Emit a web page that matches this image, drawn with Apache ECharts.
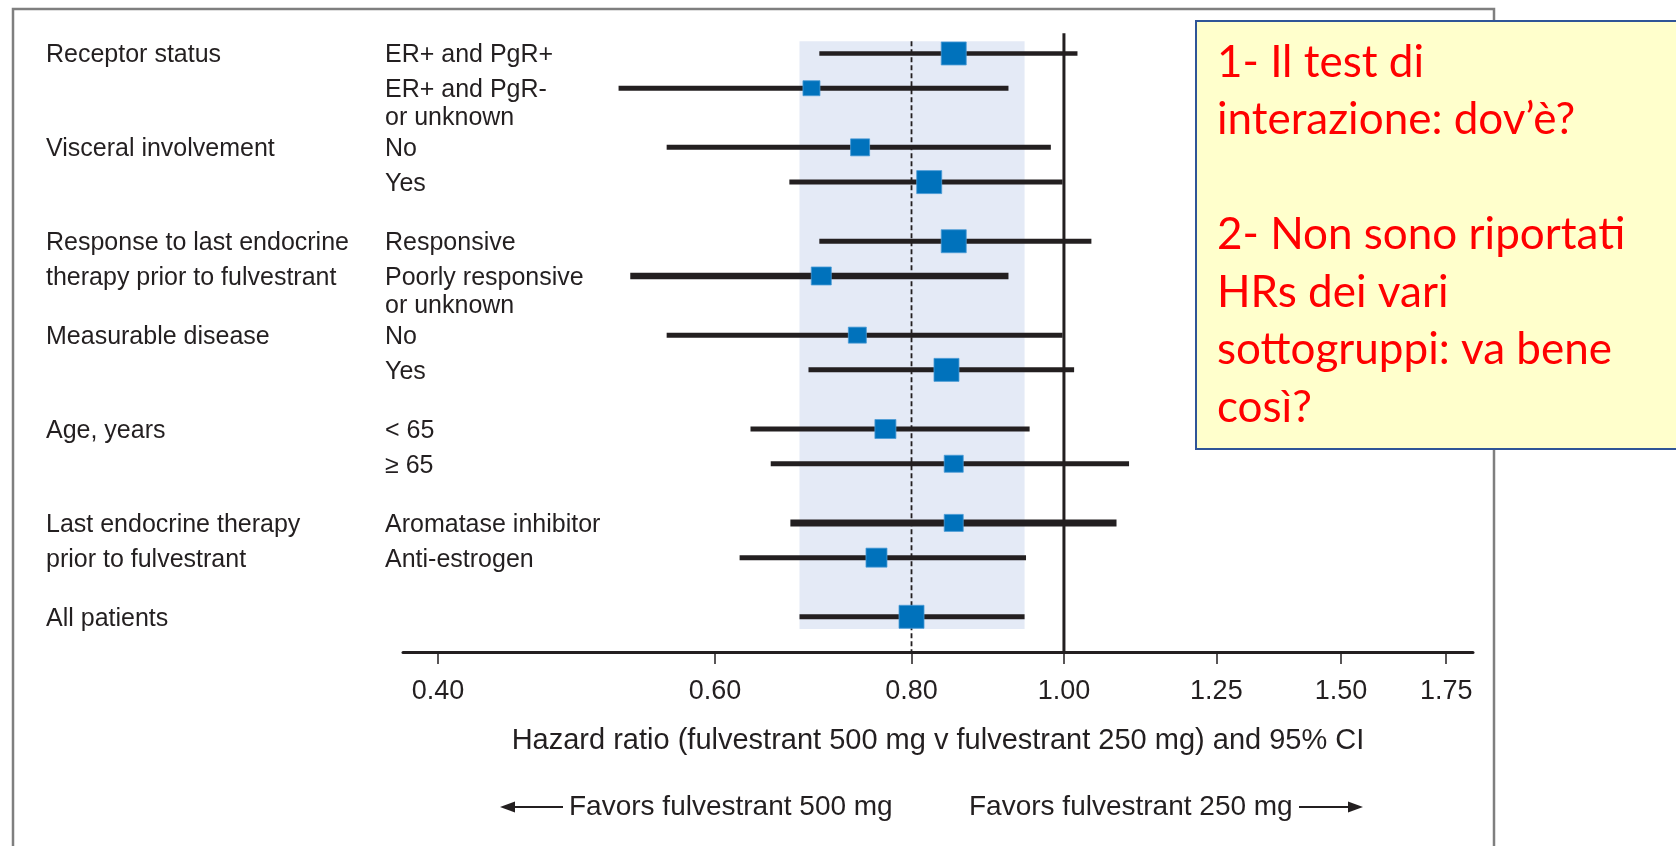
<!DOCTYPE html>
<html><head><meta charset="utf-8">
<script src="https://cdn.jsdelivr.net/npm/echarts@6/dist/echarts.min.js"></script>
<style>html,body{margin:0;padding:0;background:#fff}#c{width:1676px;height:846px}</style>
</head><body><div id="c"></div>
<script>
// ---------- data ----------
const groupLabels = ['Receptor status', 'Visceral involvement', 'Response to last endocrine\ntherapy prior to fulvestrant', 'Measurable disease', 'Age, years', 'Last endocrine therapy\nprior to fulvestrant', 'All patients'];
const subgroupLabels = ['ER+ and PgR+', 'ER+ and PgR-\nor unknown', 'No', 'Yes', 'Responsive', 'Poorly responsive\nor unknown', 'No', 'Yes', '< 65', '≥ 65', 'Aromatase inhibitor', 'Anti-estrogen', ''];
const rowGroup   = [0, 0, 1, 1, 2, 2, 3, 3, 4, 4, 5, 5, 6];
const rowInGroup = [0, 1, 0, 1, 0, 1, 0, 1, 0, 1, 0, 1, 0];
const hazardRatio = [0.851, 0.691, 0.742, 0.821, 0.851, 0.701, 0.739, 0.842, 0.770, 0.851, 0.851, 0.760, 0.80];
const ciLower     = [0.699, 0.521, 0.559, 0.669, 0.699, 0.530, 0.559, 0.688, 0.632, 0.651, 0.670, 0.622, 0.679];
const ciUpper     = [1.020, 0.922, 0.981, 0.998, 1.041, 0.922, 0.998, 1.015, 0.951, 1.100, 1.080, 0.946, 0.944];
const tickValues = [0.40, 0.60, 0.80, 1.00, 1.25, 1.50, 1.75];
const noEffectHR = 1.0;
const overallIndex = 12;
const axisTitle = 'Hazard ratio (fulvestrant 500 mg v fulvestrant 250 mg) and 95% CI';
const favorsLeft = 'Favors fulvestrant 500 mg';
const favorsRight = 'Favors fulvestrant 250 mg';
const noteLines = ['1- Il test di', 'interazione: dov\u2019è?', '', '2- Non sono riportati', 'HRs dei vari', 'sottogruppi: va bene', 'così?'];

// ---------- styles / layout ----------
const squareHeight = [23, 15, 17, 23, 23, 18, 16, 23, 19, 17, 17, 19, 23];
const ciLineWidth  = [4.5, 5, 5, 5, 5, 6.5, 5, 5, 5, 5, 7, 5, 5];
const SUB_STEP = 0.37;
const X_MIN = Math.log(0.38), X_MAX = Math.log(1.82);
const Y_MIN = -0.25, Y_MAX = 6.375;
const BAND_TOP = -0.13, BAND_BOTTOM = 6.13, SOLID_TOP = -0.215;
const INK = '#231F20';
const FONT = '"Liberation Sans", Arial, sans-serif';
const TEXT_NUDGE = 2;

const rowY = rowGroup.map((g, i) => g + rowInGroup[i] * SUB_STEP);
const ciData = hazardRatio.map((h, i) => [Math.log(ciLower[i]), Math.log(ciUpper[i]), Math.log(h), rowY[i], i]);
const labelData = rowY.map((y, i) => [X_MIN, y, i]);

const chart = echarts.init(document.getElementById('c'), null, {renderer: 'canvas'});

const option = {
  animation: false,
  backgroundColor: '#ffffff',
  grid: {left: 403, right: 203, top: 30, bottom: 194, containLabel: false},
  xAxis: {
    type: 'value', min: X_MIN, max: X_MAX, position: 'bottom',
    axisLine: {show: true, onZero: false, lineStyle: {color: INK, width: 3}},
    axisTick: {show: true, length: 12, lineStyle: {color: INK, width: 1.5}, customValues: tickValues.map(Math.log)},
    axisLabel: {show: true, customValues: tickValues.map(Math.log), formatter: v => Math.exp(v).toFixed(2),
      fontSize: 27, fontFamily: FONT, color: INK, margin: 26},
    splitLine: {show: false},
    name: axisTitle, nameLocation: 'middle', nameGap: 74,
    nameTextStyle: {fontSize: 29, fontFamily: FONT, color: INK}
  },
  yAxis: {
    type: 'value', min: Y_MIN, max: Y_MAX, inverse: true,
    axisLine: {show: false}, axisTick: {show: false}, axisLabel: {show: false}, splitLine: {show: false}
  },
  series: [
    { // shaded band = overall CI
      type: 'custom', z: 1, silent: true, clip: false,
      data: [[Math.log(ciLower[overallIndex]), Math.log(ciUpper[overallIndex]), BAND_TOP, BAND_BOTTOM]],
      encode: {x: [0, 1], y: [2, 3]},
      renderItem: (params, api) => {
        const p1 = api.coord([api.value(0), api.value(2)]);
        const p2 = api.coord([api.value(1), api.value(3)]);
        return {type: 'rect', shape: {x: p1[0], y: p1[1], width: p2[0] - p1[0], height: p2[1] - p1[1]}, style: {fill: '#E4EAF6'}};
      }
    },
    { // overall HR dashed line
      type: 'line', z: 2, silent: true, symbol: 'none',
      data: [[Math.log(hazardRatio[overallIndex]), BAND_TOP], [Math.log(hazardRatio[overallIndex]), Y_MAX]],
      lineStyle: {color: INK, width: 1.8, type: [5, 3]}
    },
    { // no effect line
      type: 'line', z: 2, silent: true, symbol: 'none',
      data: [[Math.log(noEffectHR), SOLID_TOP], [Math.log(noEffectHR), Y_MAX]],
      lineStyle: {color: INK, width: 3}
    },
    { // CI lines
      type: 'custom', z: 3, silent: true, clip: false,
      data: ciData, encode: {x: [0, 1, 2], y: 3},
      renderItem: (params, api) => {
        const i = api.value(4);
        const lo = api.coord([api.value(0), api.value(3)]);
        const hi = api.coord([api.value(1), api.value(3)]);
        return {type: 'line', shape: {x1: lo[0], y1: lo[1], x2: hi[0], y2: hi[1]},
          style: {stroke: INK, lineWidth: ciLineWidth[i], lineCap: 'butt'}};
      }
    },
    { // squares
      type: 'custom', z: 4, silent: true, clip: false,
      data: ciData, encode: {x: [0, 1, 2], y: 3},
      renderItem: (params, api) => {
        const i = api.value(4);
        const c = api.coord([api.value(2), api.value(3)]);
        const h = squareHeight[i], w = h + 2;
        return {type: 'rect', shape: {x: c[0] - w / 2, y: c[1] - h / 2, width: w, height: h},
          style: {fill: '#0072BC', stroke: '#4A9AD6', lineWidth: 0.8}};
      }
    },
    { // row labels
      type: 'custom', z: 5, silent: true, clip: false,
      data: labelData, encode: {x: 0, y: 1},
      renderItem: (params, api) => {
        const i = api.value(2);
        const children = [];
        const y0 = api.coord([X_MIN, api.value(1)])[1] + TEXT_NUDGE;
        if (rowInGroup[i] === 0) {
          const g = rowGroup[i];
          groupLabels[g].split('\n').forEach((t, k) => {
            const yy = api.coord([X_MIN, g + k * SUB_STEP])[1] + TEXT_NUDGE;
            children.push({type: 'text', style: {text: t, x: 46, y: yy, fill: INK, fontSize: 25, fontFamily: FONT, align: 'left', verticalAlign: 'middle'}});
          });
        }
        subgroupLabels[i].split('\n').forEach((t, k) => {
          if (!t) return;
          children.push({type: 'text', style: {text: t, x: 385, y: y0 + k * 28, fill: INK, fontSize: 25, fontFamily: FONT, align: 'left', verticalAlign: 'middle'}});
        });
        return {type: 'group', children};
      }
    }
  ],
  graphic: [
    {type: 'rect', z: 0, silent: true, shape: {x: 13, y: 9, width: 1481, height: 900}, style: {fill: 'none', stroke: '#7F7F7F', lineWidth: 2.5}},
    {type: 'text', z: 10, silent: true, style: {text: favorsLeft, x: 569, y: 807, fill: INK, fontSize: 28, fontFamily: FONT, align: 'left', verticalAlign: 'middle'}},
    {type: 'line', z: 10, silent: true, shape: {x1: 512, y1: 807, x2: 563, y2: 807}, style: {stroke: INK, lineWidth: 2}},
    {type: 'polygon', z: 10, silent: true, shape: {points: [[500, 807], [515, 801.5], [515, 812.5]]}, style: {fill: INK}},
    {type: 'text', z: 10, silent: true, style: {text: favorsRight, x: 969, y: 807, fill: INK, fontSize: 28, fontFamily: FONT, align: 'left', verticalAlign: 'middle'}},
    {type: 'line', z: 10, silent: true, shape: {x1: 1299, y1: 807, x2: 1351, y2: 807}, style: {stroke: INK, lineWidth: 2}},
    {type: 'polygon', z: 10, silent: true, shape: {points: [[1363, 807], [1348, 801.5], [1348, 812.5]]}, style: {fill: INK}},
    {type: 'rect', z: 20, silent: true, shape: {x: 1196, y: 21, width: 520, height: 428}, style: {fill: '#FFFFCC', stroke: '#2F5597', lineWidth: 2}},
    {type: 'text', z: 21, silent: true, style: {text: noteLines.join('\n'), x: 1217, y: 34, fill: '#FF0000', fontSize: 44, fontFamily: 'Lato, "Open Sans", sans-serif', lineHeight: 57.5, align: 'left', verticalAlign: 'top'}}
  ]
};
chart.setOption(option);
</script>
</body></html>
